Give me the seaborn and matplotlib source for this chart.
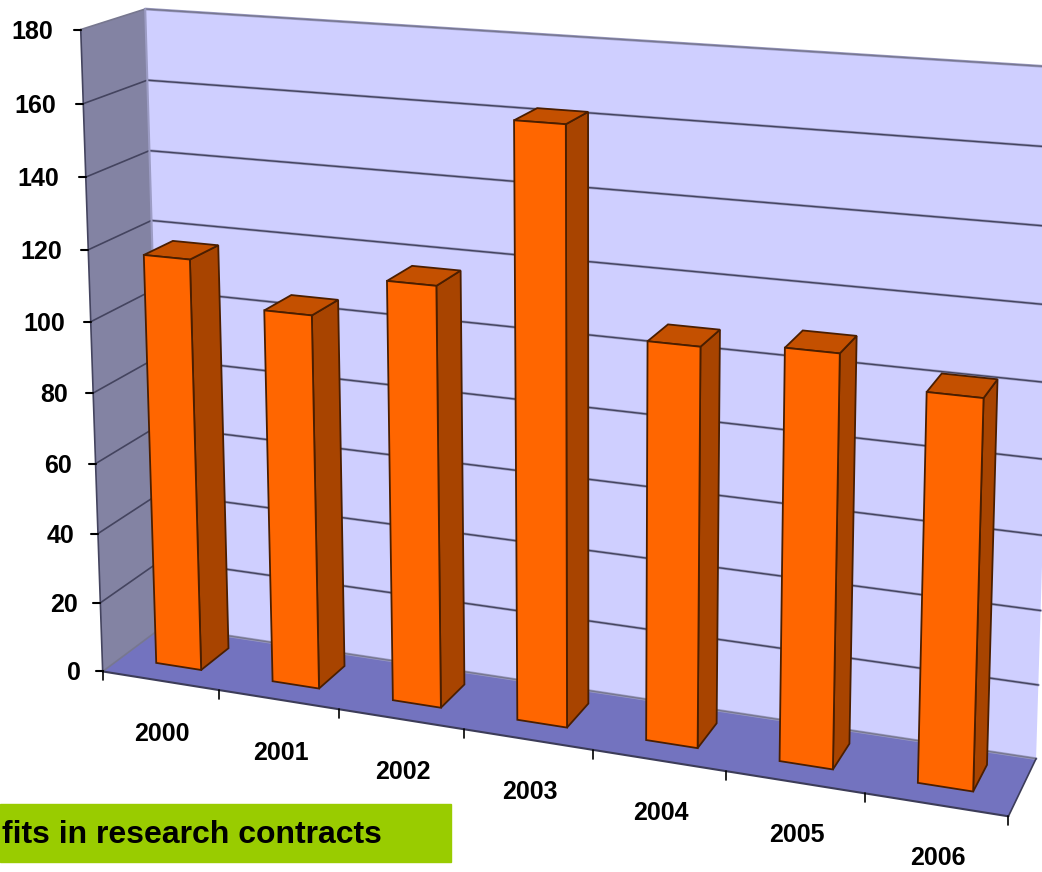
import numpy as np
import pandas as pd
import seaborn as sns
import matplotlib
matplotlib.use("Agg")
import matplotlib.pyplot as plt
from matplotlib.transforms import Transform

years = ["2000", "2001", "2002", "2003", "2004", "2005", "2006"]
benefits = [117, 105, 116.5, 162, 107.5, 109.5, 102]
y_ticks = [0, 20, 40, 60, 80, 100, 120, 140, 160, 180]
banner_text = "fits in research contracts"

W, H = 1042, 872
Z_FRONT, Z_BACK = 0.30, 0.77

# camera calibration: (category edge, value, depth) -> picture pixel
calib = [
    (-0.5, 0, 0, 105, 669), (-0.5, 120, 0, 88, 250), (-0.5, 160, 0, 82, 103), (-0.5, 180, 0, 77, 30),
    (-0.5, 0, 1, 157, 630), (-0.5, 120, 1, 156, 218), (-0.5, 180, 1, 147, 11),
    (0.5, 0, 0, 222, 689), (1.5, 0, 0, 341, 708), (2.5, 0, 0, 464, 729),
    (3.5, 0, 0, 592, 750), (4.5, 0, 0, 726, 772), (5.5, 0, 0, 864, 796), (6.5, 0, 0, 1008, 818),
    (6.5, 0, 1, 1037, 755), (6.5, 120, 1, 1049, 305), (6.5, 180, 1, 1058, 67),
]
rows = []
for x, y, z, u, v in calib:
    p = [x, y / 100, z, 1]
    rows.append(p + [0, 0, 0, 0] + [-u * c for c in p])
    rows.append([0, 0, 0, 0] + p + [-v * c for c in p])
P = np.linalg.svd(np.array(rows, float))[2][-1].reshape(3, 4)


class Persp(Transform):
    input_dims = 2
    output_dims = 2
    is_separable = False
    has_inverse = False

    def __init__(self, z=0.0):
        super().__init__()
        self.z = z

    def transform_non_affine(self, pts):
        pts = np.asarray(pts, float)
        h = np.c_[pts[:, 0], pts[:, 1] / 100, np.full(len(pts), self.z), np.ones(len(pts))]
        q = h @ P.T
        return np.c_[q[:, 0] / q[:, 2], H - q[:, 1] / q[:, 2]]


class Side(Transform):
    # (depth, value) at one fixed category position
    input_dims = 2
    output_dims = 2
    is_separable = False
    has_inverse = False

    def __init__(self, x):
        super().__init__()
        self.x = x

    def transform_non_affine(self, pts):
        pts = np.asarray(pts, float)
        h = np.c_[np.full(len(pts), self.x), pts[:, 1] / 100, pts[:, 0], np.ones(len(pts))]
        q = h @ P.T
        return np.c_[q[:, 0] / q[:, 2], H - q[:, 1] / q[:, 2]]


class Flat(Transform):
    # (category, depth) at one fixed value
    input_dims = 2
    output_dims = 2
    is_separable = False
    has_inverse = False

    def __init__(self, y):
        super().__init__()
        self.y = y

    def transform_non_affine(self, pts):
        pts = np.asarray(pts, float)
        h = np.c_[pts[:, 0], np.full(len(pts), self.y / 100), pts[:, 1], np.ones(len(pts))]
        q = h @ P.T
        return np.c_[q[:, 0] / q[:, 2], H - q[:, 1] / q[:, 2]]


sns.set_theme(style="white")
plt.rcParams["font.family"] = ["Liberation Sans"]

fig = plt.figure(figsize=(W / 100, H / 100), dpi=100)
ax = fig.add_axes([0, 0, 1, 1])

df = pd.DataFrame({"year": years, "benefits": benefits})
sns.barplot(data=df, x="year", y="benefits", color="#FF6600", saturation=1, width=0.39, ax=ax,
            edgecolor="#4A1E00", linewidth=1.3, zorder=5)
ax.set_axis_off()

x0, x1 = -0.5, len(years) - 0.5
ymax = y_ticks[-1]

# walls and floor
ax.fill([x0, x1, x1, x0], [0, 0, ymax, ymax], color="#CFCFFF", lw=0, transform=Persp(1.0), zorder=1)
ax.fill([0, 1, 1, 0], [0, 0, ymax, ymax], color="#8383A3", lw=0, transform=Side(x0), zorder=1)
ax.fill([x0, x1, x1, x0], [0, 0, 1, 1], color="#7373BF", lw=0, transform=Flat(0), zorder=2)

# gridlines, a soft pale line under a thin dark one
for v in y_ticks:
    col = "#44445F" if 0 < v < ymax else "#77778F"
    ax.plot([x0, x1], [v, v], color="#9C9CC4", lw=2.0, transform=Persp(1.0), zorder=3)
    ax.plot([x0, x1], [v, v], color=col, lw=1.0, transform=Persp(1.0), zorder=3)
    ax.plot([0, 1], [v, v], color=col, lw=1.2, transform=Side(x0), zorder=3)
ax.plot([x0, x0], [0, ymax], color="#9C9CC4", lw=1.5, transform=Persp(1.0), zorder=3)

# axis edges
ax.plot([x0, x0], [0, ymax], color="#44445F", lw=1.2, transform=Persp(0.0), zorder=4)
ax.plot([x0, x1], [0, 0], color="#3C3C58", lw=1.5, transform=Persp(0.0), zorder=4)
ax.plot([x1, x1], [0, 1], color="#3C3C58", lw=1.2, transform=Flat(0), zorder=4)

# bars: sides and tops follow the front faces seaborn drew
for patch in list(ax.patches):
    if not isinstance(patch, matplotlib.patches.Rectangle):
        continue
    left, right = patch.get_x(), patch.get_x() + patch.get_width()
    top = patch.get_height()
    patch.set_transform(Persp(Z_FRONT))
    ax.fill([Z_FRONT, Z_BACK, Z_BACK, Z_FRONT], [0, 0, top, top], fc="#A84400", ec="#4A1E00", lw=1.3,
            transform=Side(right), zorder=4.5)
    ax.fill([left, right, right, left], [Z_FRONT, Z_FRONT, Z_BACK, Z_BACK], fc="#C45000", ec="#4A1E00",
            lw=1.3, transform=Flat(top), zorder=4.6)

# ticks and tick labels
tr = Persp(0.0)
for v in y_ticks:
    px = tr.transform([[x0, v]])[0]
    ax.plot([px[0] - 7, px[0]], [px[1], px[1]], color="black", lw=1.5, transform=None, zorder=6)
    ax.text(px[0] - 22 - 6 * v / ymax, px[1] - 2, str(v), ha="right", va="center", fontsize=18,
            fontweight="bold", color="black", transform=None)
for i in range(len(years) + 1):
    px = tr.transform([[x0 + i, 0]])[0]
    ax.plot([px[0], px[0]], [px[1], px[1] - 9], color="black", lw=1.2, transform=None, zorder=6)
for i, year in enumerate(years):
    px = tr.transform([[i, 0]])[0]
    ax.text(px[0] + 2, px[1] - 53, year, ha="center", va="center", fontsize=18, fontweight="bold",
            color="black", transform=None)

# banner
fig.patches.append(plt.Rectangle((0, 1 - 862 / H), 451 / W, 58 / H, color="#99CC00", transform=fig.transFigure,
                                 zorder=7, figure=fig))
fig.text(2 / W, 1 - 835 / H, banner_text, ha="left", va="center", fontsize=23, fontweight="bold",
         color="black", zorder=8)

fig.savefig("out.png", dpi=100, facecolor="white")
